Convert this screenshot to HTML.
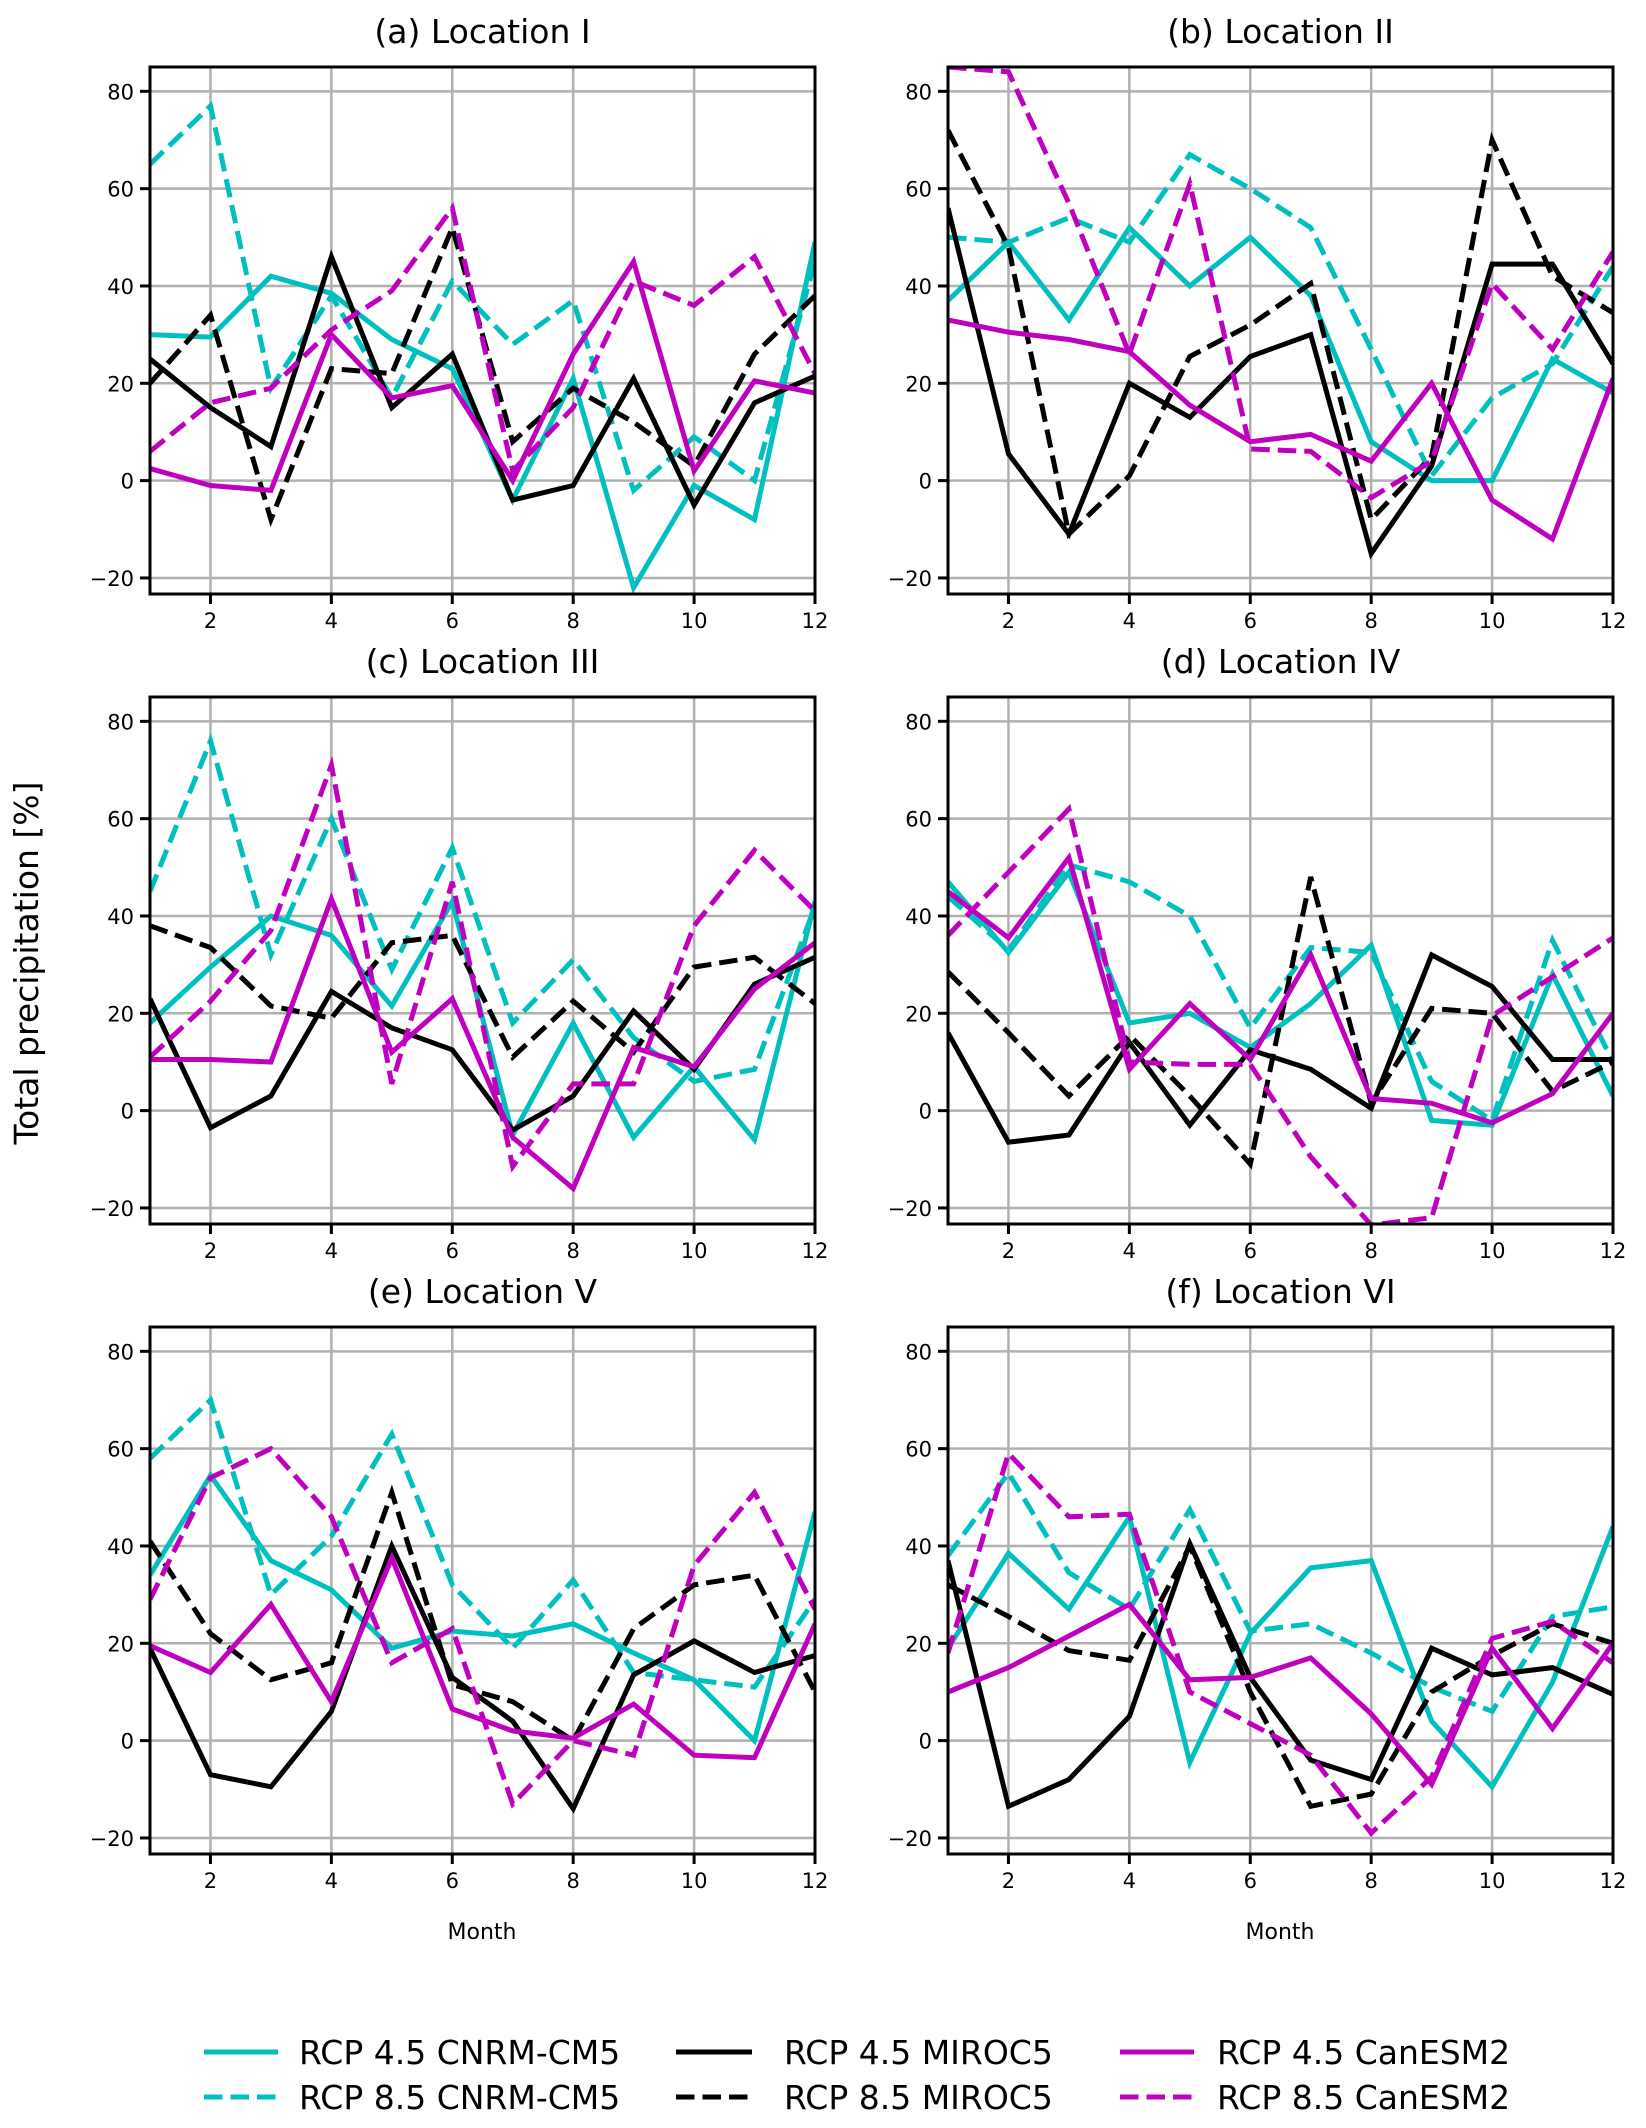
<!DOCTYPE html>
<html><head><meta charset="utf-8"><style>
html,body{margin:0;padding:0;background:#fff}
svg{display:block;font-family:"DejaVu Sans","Liberation Sans",sans-serif}
</style></head><body>
<svg id="fig" width="1646" height="2128" viewBox="0 0 1646 2128" xmlns="http://www.w3.org/2000/svg">
<text x="38" y="963" font-size="33" text-anchor="middle" transform="rotate(-90 38 963)">Total precipitation [%]</text>
<text x="482" y="1939" font-size="22" text-anchor="middle">Month</text>
<text x="1280" y="1939" font-size="22" text-anchor="middle">Month</text>
<g>
<g><line x1="204" y1="2052" x2="278" y2="2052" stroke="#00bfbf" stroke-width="5"/><text x="299" y="2064" font-size="33">RCP 4.5 CNRM-CM5</text></g>
<g><line x1="204" y1="2097" x2="278" y2="2097" stroke="#00bfbf" stroke-width="5" stroke-dasharray="18.5,8"/><text x="299" y="2109" font-size="33">RCP 8.5 CNRM-CM5</text></g>
<g><line x1="676" y1="2052" x2="752" y2="2052" stroke="#000" stroke-width="5"/><text x="784" y="2064" font-size="33">RCP 4.5 MIROC5</text></g>
<g><line x1="676" y1="2097" x2="752" y2="2097" stroke="#000" stroke-width="5" stroke-dasharray="18.5,8"/><text x="784" y="2109" font-size="33">RCP 8.5 MIROC5</text></g>
<g><line x1="1120" y1="2052" x2="1194" y2="2052" stroke="#bf00bf" stroke-width="5"/><text x="1217" y="2064" font-size="33">RCP 4.5 CanESM2</text></g>
<g><line x1="1120" y1="2097" x2="1194" y2="2097" stroke="#bf00bf" stroke-width="5" stroke-dasharray="18.5,8"/><text x="1217" y="2109" font-size="33">RCP 8.5 CanESM2</text></g>
</g>
</svg>
<script>
const months=[1,2,3,4,5,6,7,8,9,10,11,12];
const xTicks=[2,4,6,8,10,12];
const yTicks=[-20,0,20,40,60,80];
const yTickLabels=["\u221220","0","20","40","60","80"];
const panelTitles=["(a) Location I","(b) Location II","(c) Location III","(d) Location IV","(e) Location V","(f) Location VI"];
const seriesNames=["rcp45-cnrm","rcp85-cnrm","rcp45-miroc","rcp85-miroc","rcp45-canesm","rcp85-canesm"];
const locI=[
[30,29.5,42,38.5,29,23,-4,21,-22,-1,-8,49],
[65,77,19,38,17,41,28,37,-2,9,0,45],
[25,15,7,46,15,26,-4,-1,21,-5,16,21.5],
[20,34,-8,23,22,52,8,19,12,3,26,38],
[2.5,-1,-2,30,17,19.5,0,26,45,2,20.5,18],
[6,16,19,31,39,56,2,15,41,36,46,22]];
const locII=[
[37,49,33,52,40,50,38,8,0,0,25,18],
[50,49,54,49,67,60,52,27,1,17,24,44],
[56,5.5,-11,20,13,25.5,30,-15,3,44.5,44.5,24],
[72,48,-11,1,25.5,32,40.5,-8,5,70,42,34.5],
[33,30.5,29,26.5,15.5,8,9.5,4,20,-4,-12,21],
[85,84,57,26,61,6.5,6,-3.5,4,40.5,27,47]];
const locIII=[
[18,29.5,40,36,21.5,43,-5,18,-5.5,9,-6,43],
[45,76,32,60,29,54,18,31,15,6,8.5,42],
[23,-3.5,3,24.5,17,12.5,-4,3,20.5,8.5,26,31.5],
[38,33.5,21.5,19,34.5,36,11,22.5,12,29.5,31.5,22],
[10.5,10.5,10,43.5,12,23,-5.5,-16,13,9,25,34.5],
[11,22.5,37,71,5.5,47,-11.5,5.5,5.5,38,53.5,41]];
const locIV=[
[47,32.5,49,18,20,13,22,34,-2,-3,28,3],
[44,33,50.5,47,40,17,33.5,32.5,6,-2,35,10],
[16,-6.5,-5,14,-3,12.5,8.5,0.5,32,25.5,10.5,10.5],
[28.5,16,3,15.5,3,-11,48,1.5,21,20,4,10],
[45,35.5,52,8.5,22,10.5,32,2.5,1.5,-2.5,3.5,20],
[36,49,62,10,9.5,9.5,-9.5,-23.5,-22,19.5,27.5,35.5]];
const locV=[
[34,54.5,37,31,19,22.5,21.5,24,18,12.5,0,47],
[58,70,30,42,63,32,19,33,14,12.5,11,29],
[19,-7,-9.5,6,40,13,4,-14,13.5,20.5,14,17.5],
[41,22,12.5,16,51,11.5,8,0,23,32,34,10],
[19.5,14,28,8,37.5,6.5,2,0.5,7.5,-3,-3.5,24],
[29,54,60,46,16,23,-13,0,-3,36,51,27]];
const locVI=[
[19,38.5,27,46,-4.5,22,35.5,37,4,-9.5,12,44],
[38,55,34.5,27,47.5,22.5,24,18,11,6,25.5,27.5],
[37,-13.5,-8,5,40.5,13,-4,-8,19,13.5,15,9.5],
[32,25.5,18.5,16.5,40,10,-13.5,-11,10,17.5,24,20],
[10,15,21.5,28,12.5,13,17,5.5,-9,19,2.5,20],
[18,59,46,46.5,10,3.5,-3,-19,-7.5,21,24.5,16]];
const allData=[locI,locII,locIII,locIV,locV,locVI];

const NS="http://www.w3.org/2000/svg";
const svg=document.getElementById('fig');
const colors=["#00bfbf","#00bfbf","#000","#000","#bf00bf","#bf00bf"];
const dashed=[false,true,false,true,false,true];
const colX=[[150,815],[948,1613]];
const rowTop=[67,697,1327];
const AXH=527, YMIN=-23.3, YMAX=85;
function mk(tag,attrs,parent){const e=document.createElementNS(NS,tag);for(const k in attrs)e.setAttribute(k,attrs[k]);(parent||svg).appendChild(e);return e;}
const defs=mk('defs',{});
for(let p=0;p<6;p++){
  const c=p%2,r=Math.floor(p/2);
  const x0=colX[c][0],x1=colX[c][1],y0=rowTop[r],y1=y0+AXH;
  const sx=v=>x0+(v-1)/11*(x1-x0);
  const sy=v=>y1-(v-YMIN)/(YMAX-YMIN)*AXH;
  const g=mk('g',{});
  
  
  const cp=mk('clipPath',{id:'cp'+p},defs);
  mk('rect',{x:x0,y:y0,width:x1-x0,height:AXH},cp);
  const t=mk('text',{x:(x0+x1)/2,y:y0-24,'font-size':33,'text-anchor':'middle'},g);
  t.textContent=panelTitles[p];
  
  
  xTicks.forEach(v=>{
    mk('line',{x1:sx(v),x2:sx(v),y1:y0,y2:y1,stroke:'#b0b0b0','stroke-width':2.5},g);
    mk('line',{x1:sx(v),x2:sx(v),y1:y1,y2:y1+10,stroke:'#000','stroke-width':3},g);
    const tl=mk('text',{x:sx(v),y:y1+34,'font-size':21,'text-anchor':'middle'},g);
    tl.textContent=String(v);
    
    
  });
  yTicks.forEach((v,i)=>{
    mk('line',{x1:x0,x2:x1,y1:sy(v),y2:sy(v),stroke:'#b0b0b0','stroke-width':2.5},g);
    mk('line',{x1:x0-10,x2:x0,y1:sy(v),y2:sy(v),stroke:'#000','stroke-width':3},g);
    const tl=mk('text',{x:x0-16,y:sy(v)+8,'font-size':21,'text-anchor':'end'},g);
    tl.textContent=yTickLabels[i];
    
    
  });
  const lg=mk('g',{'clip-path':'url(#cp'+p+')'},g);
  allData[p].forEach((vals,s)=>{
    const d=vals.map((v,i)=>(i?'L':'M')+sx(months[i]).toFixed(1)+','+sy(v).toFixed(1)).join(' ');
    const pa=mk('path',{d:d,fill:'none',stroke:colors[s],'stroke-width':5,'stroke-linejoin':'miter'},lg);
    if(dashed[s])pa.setAttribute('stroke-dasharray','18.5,8');
    
    
  });
  mk('rect',{x:x0,y:y0,width:x1-x0,height:AXH,fill:'none',stroke:'#000','stroke-width':3},g);
}
</script>
</body></html>
